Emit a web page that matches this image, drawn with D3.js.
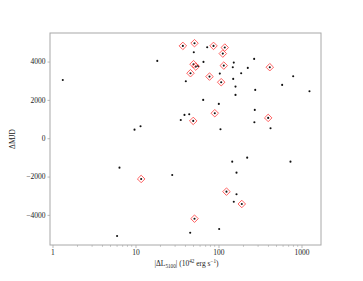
<!DOCTYPE html>
<html><head><meta charset="utf-8">
<script src="https://cdn.jsdelivr.net/npm/d3@7"></script>
<style>
html,body{margin:0;padding:0;background:#fff;}
text{font-family:"Liberation Serif","DejaVu Serif",serif;}
</style></head>
<body><svg id="c" width="363" height="281"></svg>
<script>
// All points: |ΔL5100| (10^42 erg/s) and ΔMJD
const lum = [1.33,6.41,6.0,37.2,51.4,50.4,73.1,87.1,119,112.7,18.3,152.8,225.4,65.9,50.0,53.3,56.9,115.8,148.6,46,103.7,187.6,77.9,150.4,107.8,40.4,160.3,160.3,65.4,100.9,90.2,38.9,44.4,35.1,49.6,11.5,9.73,105.7,221.7,146.3,164.8,11.7,27.7,124.8,164.8,152.8,190.9,51.4,45.6,101.9,269,415,794,585,277,1248,273.7,270.6,397,423.6,737];
const dmjd = [3040,-1535,-5100,4818,4959,4489,4750,4818,4730,4416,4035,3946,3670,3983,3863,3738,3774,3790,3706,3393,3372,3393,3216,3095,2923,2975,2694,2260,2000,1790,1305,1216,1253,955,903,626,449,470,-1013,-1221,-1796,-2125,-1916,-2787,-2923,-3310,-3430,-4197,-4928,-4735,4140,3706,3236,2782,2521,2453,1477,835,1060,522,-1221];
// Highlighted points (red diamonds)
const redLum  = [37.2,51.4,87.1,119,112.7,50.0,53.3,115.8,46,77.9,107.8,90.2,49.6,11.7,124.8,190.9,51.4,415,397];
const redDmjd = [4818,4959,4818,4730,4416,3863,3738,3790,3393,3216,2923,1305,903,-2125,-2787,-3430,-4197,3706,1060];
const xTicks = [1,10,100,1000];
const yTicks = [-4000,-2000,0,2000,4000];

const svg = d3.select("#c");
const L=50, R=321, T=33, B=245;
const x = d3.scaleLog().domain([0.933,1718]).range([L,R]);
const y = d3.scaleLinear().domain([-5570,5490]).range([B,T]);

const frame="#a8a8a8", tc="#222";

// x axis
const xa = svg.append("g").attr("transform",`translate(0,${B})`)
  .call(d3.axisBottom(x).tickValues(xTicks).tickFormat(d3.format("d")).tickSize(3).tickPadding(2));
// minor ticks
const minors=[];
for(let e=-1;e<4;e++){for(let m=2;m<10;m++){const v=m*Math.pow(10,e); if(v>=0.933&&v<=1718) minors.push(v);}}
svg.append("g").selectAll("line").data(minors).join("line")
  .attr("x1",d=>x(d)).attr("x2",d=>x(d)).attr("y1",B).attr("y2",B+1.8)
  .attr("stroke",frame).attr("stroke-width",0.7);
const ya = svg.append("g").attr("transform",`translate(${L},0)`)
  .call(d3.axisLeft(y).tickValues(yTicks).tickFormat(d=>d<0?"\u2212"+Math.abs(d):String(d)).tickSize(2.5).tickPadding(2));
[xa,ya].forEach(g=>{
  g.select(".domain").remove();
  g.selectAll(".tick line").attr("stroke",frame).attr("stroke-width",0.8);
  g.selectAll(".tick text").attr("fill",tc).style("font-size","7.5px").style("font-family","'Liberation Serif',serif");
});
// frame
svg.append("rect").attr("x",L).attr("y",T).attr("width",R-L).attr("height",B-T)
  .attr("fill","none").attr("stroke",frame).attr("stroke-width",1);

// points
svg.append("g").selectAll("circle").data(lum.map((v,i)=>[v,dmjd[i]])).join("circle")
  .attr("cx",d=>x(d[0])).attr("cy",d=>y(d[1])).attr("r",1.05).attr("fill","#111");
const dia = d3.symbol().type(d3.symbolDiamond2).size(36);
svg.append("g").selectAll("path").data(redLum.map((v,i)=>[v,redDmjd[i]])).join("path")
  .attr("d",dia).attr("transform",d=>`translate(${x(d[0])},${y(d[1])})`)
  .attr("fill","none").attr("stroke","#ff4545").attr("stroke-width",0.85);

// labels
svg.append("text").attr("transform",`translate(15,${(T+B)/2}) rotate(-90)`)
  .attr("text-anchor","middle").attr("fill",tc).style("font-size","7.5px").text("ΔMJD");
const xl = svg.append("text").attr("x",186.5).attr("y",266).attr("text-anchor","middle")
  .attr("fill",tc).style("font-size","7.5px");
xl.append("tspan").text("|ΔL");
xl.append("tspan").attr("dy",1.5).style("font-size","5.2px").text("5100");
xl.append("tspan").attr("dy",-1.5).text("| (10");
xl.append("tspan").attr("dy",-3).style("font-size","5.2px").text("42");
xl.append("tspan").attr("dy",3).text(" erg s");
xl.append("tspan").attr("dy",-3).style("font-size","5.2px").text("−1");
xl.append("tspan").attr("dy",3).text(")");
</script></body></html>
